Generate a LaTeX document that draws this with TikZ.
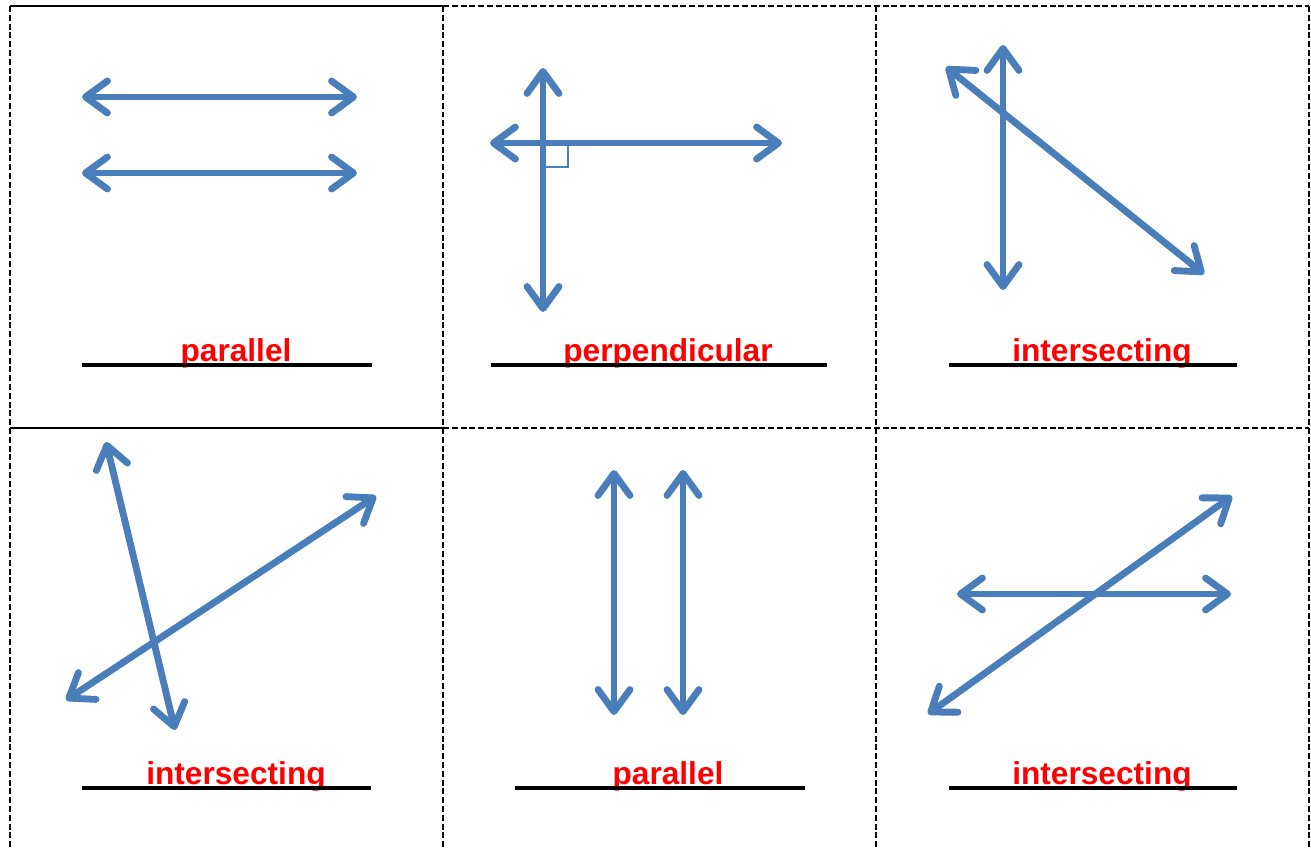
\documentclass[tikz,border=0pt]{standalone}
\usepackage{fontspec}
\setmainfont{Liberation Sans}
\usetikzlibrary{arrows.meta,positioning}
\definecolor{lineblue}{HTML}{4A7EBB}
\definecolor{answerred}{HTML}{FF0000}

\begin{document}
\begin{tikzpicture}[
        x=0.01cm, y=-0.01cm,
        ray/.style={{Straight Barb[length=0.22cm, width=0.32cm, round]}-{Straight Barb[length=0.22cm, width=0.32cm, round]}, line width=1.95pt, draw=lineblue, line cap=round},
        answer/.style={anchor=base, text=answerred, font=\fontsize{9}{11}\selectfont\bfseries, inner sep=0pt},
        blank/.style={line width=1.05pt},
        cutline/.style={line width=0.55pt, dash pattern=on 1.7pt off 0.8pt}
    ]
        \useasboundingbox (0,0) rectangle (1311,848);

        % Card grid
        \draw[line width=0.8pt] (10,6) -- (443,6);
        \draw[line width=0.8pt] (10,428) -- (443,428);
        \draw[cutline] (443,6) -- (1309,6);
        \draw[cutline] (443,428) -- (1309,428);
        \draw[cutline] (10,6) -- (10,848);
        \draw[cutline] (443,6) -- (443,848);
        \draw[cutline] (876,6) -- (876,848);
        \draw[cutline] (1309,6) -- (1309,848);

        % Card 1: parallel
        \coordinate (pa1) at (82,97);
        \coordinate (pa2) at (357,97);
        \coordinate (pb1) at (82,173);
        \coordinate (pb2) at (357,173);
        \draw[ray] (pa1) -- (pa2);
        \draw[ray] (pb1) -- (pb2);

        % Card 2: perpendicular
        \coordinate (vtop) at (543,68);
        \coordinate (vbot) at (543,312);
        \coordinate (hleft) at (490,143);
        \coordinate (hright) at (782,143);
        \draw[lineblue, line width=0.6pt] (543,143) rectangle (568,167);
        \draw[ray] (vtop) -- (vbot);
        \draw[ray] (hleft) -- (hright);

        % Card 3: intersecting
        \coordinate (ctop) at (1003,45);
        \coordinate (cbot) at (1003,290);
        \coordinate (dtop) at (946,67);
        \coordinate (dbot) at (1204,274);
        \draw[ray] (ctop) -- (cbot);
        \draw[ray] (dtop) -- (dbot);

        % Card 4: intersecting
        \coordinate (steep1) at (106,442);
        \coordinate (steep2) at (175,730);
        \coordinate (slope1) at (66,700);
        \coordinate (slope2) at (376,496);
        \draw[ray] (steep1) -- (steep2);
        \draw[ray] (slope1) -- (slope2);

        % Card 5: parallel
        \coordinate (qa1) at (614,470);
        \coordinate (qa2) at (614,715);
        \coordinate (qb1) at (683,470);
        \coordinate (qb2) at (683,715);
        \draw[ray] (qa1) -- (qa2);
        \draw[ray] (qb1) -- (qb2);

        % Card 6: intersecting
        \coordinate (flat1) at (957,594);
        \coordinate (flat2) at (1231,594);
        \coordinate (rise1) at (928,714);
        \coordinate (rise2) at (1232,496);
        \draw[ray] (flat1) -- (flat2);
        \draw[ray] (rise1) -- (rise2);

        % Answer blanks
        \node[answer] (ans1) at (236,361) {parallel};
        \node[answer] (ans2) at (668,361) {perpendicular};
        \node[answer] (ans3) at (1102,361) {intersecting};
        \node[answer] (ans4) at (236,784) {intersecting};
        \node[answer] (ans5) at (668,784) {parallel};
        \node[answer] (ans6) at (1102,784) {intersecting};
        \draw[blank] (82,365) -- (372,365);
        \draw[blank] (491,365) -- (827,365);
        \draw[blank] (949,365) -- (1237,365);
        \draw[blank] (82,788) -- (371,788);
        \draw[blank] (515,788) -- (805,788);
        \draw[blank] (949,788) -- (1237,788);
    \end{tikzpicture}
\end{document}
